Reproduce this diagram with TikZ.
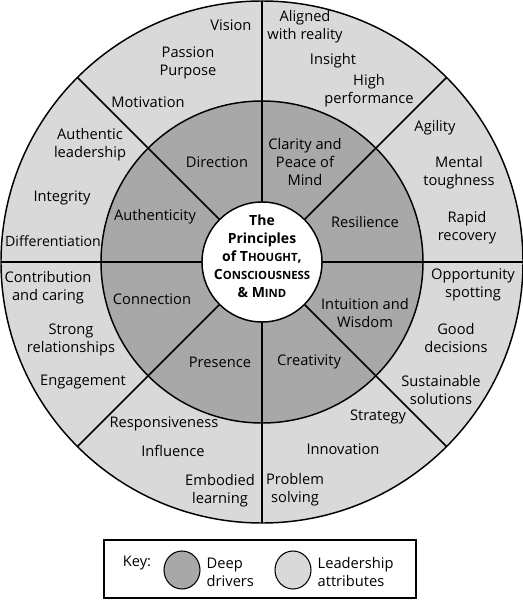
\documentclass[tikz,border=0pt]{standalone}
\usepackage{fontspec}
\setmainfont{Open Sans}
\usetikzlibrary{calc}

\tikzset{
    lbl/.style={align=center, inner sep=0pt, font=\fontsize{11}{13.5}\selectfont},
    keylbl/.style={align=left, inner sep=0pt, anchor=west, font=\fontsize{11}{13.5}\selectfont},
    hub/.style={align=center, inner sep=0pt, font=\fontsize{10.5}{13.5}\selectfont\bfseries},
}
\newcommand{\fakecaps}[2]{#1{\fontsize{8.5}{13.5}\selectfont #2}}

\begin{document}
\begin{tikzpicture}[x=0.75pt, y=0.75pt, line width=1.1pt]
    \useasboundingbox (-262,-338) rectangle (261,262);

    \filldraw[fill=gray!30] (0,0) circle[radius=261];
    \filldraw[fill=gray!68] (0,0) circle[radius=161];
    \filldraw[fill=white] (0,0) circle[radius=60];
    \foreach \a in {0,45,...,315}
        \draw (\a:60) -- (\a:261);

    % leadership attributes
    \node[lbl] (vision) at (-31, 237) {Vision};
    \node[lbl] (passion) at (-74, 199) {Passion\\Purpose};
    \node[lbl] (motivation) at (-114, 160) {Motivation};
    \node[lbl] (authlead) at (-172, 117) {Authentic\\leadership};
    \node[lbl] (integrity) at (-200, 64) {Integrity};
    \node[lbl, font=\fontsize{10.6}{13.5}\selectfont] (differ) at (-209, 21) {Differentiation};
    \node[lbl] (aligned) at (43, 235) {Aligned\\with reality};
    \node[lbl] (insight) at (71, 201) {Insight};
    \node[lbl] (highperf) at (107, 171) {High\\performance};
    \node[lbl] (agility) at (173, 134) {Agility};
    \node[lbl] (mental) at (197, 89) {Mental\\toughness};
    \node[lbl] (rapid) at (205, 34) {Rapid\\recovery};
    \node[lbl] (contrib) at (-214, -26) {Contribution\\and caring};
    \node[lbl] (strong) at (-191, -78) {Strong\\relationships};
    \node[lbl] (engage) at (-179, -120) {Engagement};
    \node[lbl] (respons) at (-98, -162) {Responsiveness};
    \node[lbl] (influence) at (-89, -189) {Influence};
    \node[lbl] (embodied) at (-42, -229) {Embodied\\learning};
    \node[lbl] (opport) at (211, -23) {Opportunity\\spotting};
    \node[lbl] (good) at (194, -76) {Good\\decisions};
    \node[lbl] (sustain) at (179, -128) {Sustainable\\solutions};
    \node[lbl] (strategy) at (116, -155) {Strategy};
    \node[lbl] (innov) at (81, -187) {Innovation};
    \node[lbl] (problem) at (33, -228) {Problem\\solving};

    % deep drivers
    \node[lbl] (direction) at (-45, 100) {Direction};
    \node[lbl] (authentic) at (-107, 45) {Authenticity};
    \node[lbl] (clarity) at (43, 100) {Clarity and\\Peace of\\Mind};
    \node[lbl] (resilience) at (103, 40) {Resilience};
    \node[lbl] (connection) at (-110, -37) {Connection};
    \node[lbl] (presence) at (-42, -100) {Presence};
    \node[lbl] (intuition) at (103, -51) {Intuition and\\Wisdom};
    \node[lbl] (creativity) at (47, -100) {Creativity};

    \node[hub] (principles) at (0, 6) {The\\Principles\\of \fakecaps{T}{HOUGHT},\\\fakecaps{C}{ONSCIOUSNESS}\\\& \fakecaps{M}{IND}};

    % key
    \draw[line width=1pt] (-158,-278) rectangle (154,-336);
    \node[lbl] (key) at (-125, -301) {Key:};
    \filldraw[fill=gray!68, line width=0.8pt] (-80,-308) ellipse[x radius=18, y radius=19];
    \node[keylbl] (deep) at (-56, -310) {Deep\\drivers};
    \filldraw[fill=gray!30, line width=0.8pt] (31,-308) ellipse[x radius=18, y radius=19];
    \node[keylbl] (leader) at (55, -310) {Leadership\\attributes};
\end{tikzpicture}
\end{document}
